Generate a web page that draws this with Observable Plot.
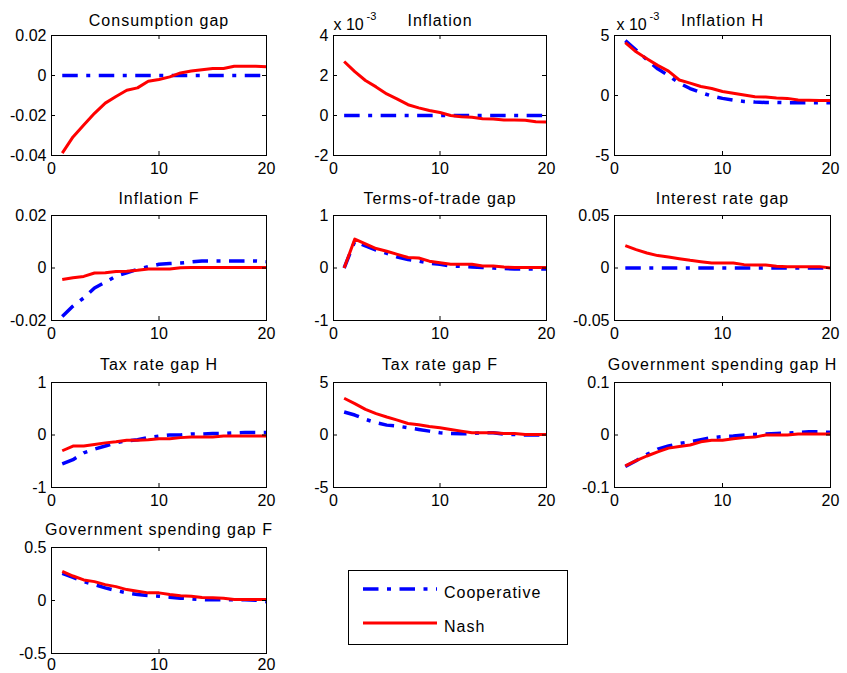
<!DOCTYPE html>
<html><head><meta charset="utf-8">
<script src="https://cdn.jsdelivr.net/npm/d3@7"></script>
<script src="https://cdn.jsdelivr.net/npm/@observablehq/plot@0.6"></script>
<style>
body{margin:0;background:#fff;}
#chart{position:relative;width:847px;height:673px;background:#fff;font-family:"Liberation Sans",Arial,sans-serif;overflow:hidden;}
#chart svg{position:absolute;}
g[aria-label="legend-text"] text{letter-spacing:1px;}
</style></head><body><div id="chart"></div>
<script>
// ---- data ----
const periods = [1,2,3,4,5,6,7,8,9,10,11,12,13,14,15,16,17,18,19,20];
const xTicks = [0,10,20];
const seriesNames = ["Cooperative","Nash"];
const expLabel = ["x 10","-3"];

const titles = ["Consumption gap","Inflation","Inflation H","Inflation F","Terms-of-trade gap",
  "Interest rate gap","Tax rate gap H","Tax rate gap F","Government spending gap H","Government spending gap F"];

const consCoop = [0,0,0,0,0,0,0,0,0,0,0,0,0,0,0,0,0,0,0,0];
const consNash = [-0.0388,-0.0307,-0.0248,-0.0189,-0.0138,-0.0105,-0.0074,-0.0062,-0.0029,-0.0020,-0.0007,0.0013,0.0022,0.0029,0.0035,0.0035,0.0046,0.0046,0.0046,0.0044];
// Inflation and Inflation H in units of 10^-3
const inflCoop = [0,0,0,0,0,0,0,0,0,0,0,0,0,0,0,0,0,0,0,0];
const inflNash = [2.70,2.19,1.75,1.43,1.08,0.82,0.54,0.38,0.25,0.15,0.00,-0.06,-0.09,-0.16,-0.17,-0.22,-0.22,-0.24,-0.31,-0.33];
const inflHCoop = [4.57,3.78,2.99,2.22,1.66,1.03,0.58,0.24,-0.04,-0.24,-0.38,-0.50,-0.55,-0.58,-0.58,-0.61,-0.61,-0.61,-0.61,-0.61];
const inflHNash = [4.40,3.64,3.07,2.51,2.03,1.29,1.03,0.75,0.58,0.33,0.18,0.04,-0.10,-0.13,-0.21,-0.24,-0.38,-0.40,-0.42,-0.42];
const inflFCoop = [-0.0185,-0.0145,-0.0114,-0.0076,-0.0054,-0.0031,-0.0018,-0.0005,0.0005,0.0014,0.0017,0.0019,0.0023,0.0027,0.0027,0.0027,0.0027,0.0027,0.0027,0.0024];
const inflFNash = [-0.0044,-0.0037,-0.0032,-0.0019,-0.0018,-0.0013,-0.0012,-0.0009,-0.0004,-0.0004,-0.0004,0.0001,0.0002,0.0002,0.0002,0.0002,0.0002,0.0002,0.0002,0.0002];
const totCoop = [0,0.51,0.42,0.34,0.28,0.21,0.16,0.13,0.09,0.07,0.04,0.03,0.02,0.01,0,-0.01,-0.02,-0.02,-0.02,-0.02];
const totNash = [0,0.55,0.46,0.37,0.32,0.26,0.20,0.19,0.13,0.10,0.07,0.07,0.07,0.04,0.04,0.02,0.01,0.01,0.01,0.01];
const irCoop = [0,0,0,0,0,0,0,0,0,0,0,0,0,0,0,0,0,0,0,0];
const irNash = [0.0213,0.0175,0.0143,0.0118,0.0105,0.0089,0.0073,0.0060,0.0048,0.0048,0.0048,0.0032,0.0029,0.0029,0.0016,0.0013,0.0013,0.0013,0.0013,0.0000];
const taxHCoop = [-0.55,-0.47,-0.34,-0.27,-0.21,-0.15,-0.11,-0.09,-0.05,-0.02,0,0,0.02,0.02,0.03,0.03,0.04,0.05,0.05,0.05];
const taxHNash = [-0.30,-0.21,-0.21,-0.18,-0.15,-0.13,-0.10,-0.10,-0.09,-0.07,-0.07,-0.05,-0.04,-0.04,-0.04,-0.02,-0.02,-0.02,-0.02,-0.02];
const taxFCoop = [2.19,1.90,1.49,1.17,0.94,0.85,0.69,0.53,0.37,0.21,0.14,0.11,0.14,0.21,0.21,0.08,0.05,0,0,0.02];
const taxFNash = [3.50,2.99,2.44,2.03,1.71,1.42,1.10,0.97,0.81,0.69,0.53,0.37,0.21,0.21,0.21,0.14,0.14,0.05,0.05,0.05];
const gHCoop = [-0.060,-0.049,-0.037,-0.027,-0.021,-0.016,-0.013,-0.009,-0.005,-0.003,-0.002,0,0.001,0.002,0.003,0.0035,0.005,0.006,0.006,0.005];
const gHNash = [-0.0587,-0.049,-0.040,-0.032,-0.025,-0.022,-0.019,-0.013,-0.010,-0.010,-0.007,-0.005,-0.004,0,0,0,0.002,0.002,0.002,0.002];
const gFCoop = [0.256,0.219,0.178,0.150,0.119,0.094,0.072,0.056,0.047,0.041,0.031,0.022,0.016,0.009,0.006,0.006,0.006,0.006,0.003,-0.012];
const gFNash = [0.275,0.231,0.194,0.178,0.150,0.131,0.103,0.088,0.072,0.072,0.056,0.044,0.041,0.028,0.025,0.022,0.009,0.009,0.009,0.009];

const yTicksList = [
  [-0.04,-0.02,0,0.02],[-2,0,2,4],[-5,0,5],
  [-0.02,0,0.02],[-1,0,1],[-0.05,0,0.05],
  [-1,0,1],[-5,0,5],[-0.1,0,0.1],
  [-0.5,0,0.5]
];
const coopList = [consCoop,inflCoop,inflHCoop,inflFCoop,totCoop,irCoop,taxHCoop,taxFCoop,gHCoop,gFCoop];
const nashList = [consNash,inflNash,inflHNash,inflFNash,totNash,irNash,taxHNash,taxFNash,gHNash,gFNash];
const withExponent = [false,true,true,false,false,false,false,false,false,false];

// ---- layout / style ----
const cols = [{left:51,w:215},{left:333,w:213},{left:614,w:216}];
const rowsL = [{top:35,h:120,gap:10,xpad:7},{top:215,h:105,gap:12,xpad:7},{top:381.5,h:105,gap:12.5,xpad:7},{top:547,h:106,gap:13,xpad:5}];
const COOP = "#0000ff", NASH = "#ff0000";
const DASH = "15.5,8.5,4,8.5";
const FONT = '"Liberation Sans", Arial, sans-serif';
const fmt = d => String(d);
const chart = document.getElementById("chart");

function panel(i) {
  const c = cols[i % 3], r = rowsL[Math.floor(i / 3)];
  const w = c.w, h = r.h;
  const ml = 60, mr = 20, mt = 40, mb = 30;
  const yT = yTicksList[i];
  const data = periods.map((t, k) => ({t, coop: coopList[i][k], nash: nashList[i][k]}));
  const marks = [
    Plot.line(data, {x: "t", y: "coop", stroke: COOP, strokeWidth: 3.5, strokeDasharray: DASH, strokeLinecap: "butt", strokeLinejoin: "miter"}),
    Plot.line(data, {x: "t", y: "nash", stroke: NASH, strokeWidth: 3, strokeLinecap: "butt"}),
    Plot.tickX(xTicks, {x: d => d, stroke: "black", strokeWidth: 1, insetBottom: h - 4}),
    Plot.tickX(xTicks, {x: d => d, stroke: "black", strokeWidth: 1, insetTop: h - 4}),
    Plot.tickY(yT, {y: d => d, stroke: "black", strokeWidth: 1, insetRight: w - 4}),
    Plot.tickY(yT, {y: d => d, stroke: "black", strokeWidth: 1, insetLeft: w - 4}),
    Plot.frame({stroke: "black", strokeWidth: 1}),
    Plot.axisX(xTicks, {tickSize: 0, tickPadding: r.xpad, tickFormat: fmt, fontSize: 16, label: null}),
    Plot.axisY(yT, {tickSize: 0, tickPadding: 5, tickFormat: fmt, fontSize: 16, label: null}),
    Plot.text([titles[i]], {frameAnchor: "top", dy: -r.gap, lineAnchor: "bottom", fontSize: 16, fill: "black"})
  ];
  if (withExponent[i]) {
    const dx = (i === 2) ? 2 : 0;
    marks.push(Plot.text([expLabel[0]], {frameAnchor: "top-left", dx: dx, dy: -6, textAnchor: "start", lineAnchor: "bottom", fontSize: 16, fill: "black"}));
    marks.push(Plot.text([expLabel[1]], {frameAnchor: "top-left", dx: dx + 33, dy: -16, textAnchor: "start", lineAnchor: "bottom", fontSize: 11, fill: "black"}));
  }
  const svg = Plot.plot({
    width: w + ml + mr, height: h + mt + mb,
    marginLeft: ml, marginRight: mr, marginTop: mt, marginBottom: mb,
    x: {domain: [0, 20], axis: null, label: null},
    y: {domain: [yT[0], yT[yT.length - 1]], axis: null, label: null},
    marks
  });
  svg.style.position = "absolute";
  svg.style.left = (c.left - ml) + "px";
  svg.style.top = (r.top - mt) + "px";
  svg.style.background = "transparent";
  svg.style.overflow = "visible";
  svg.style.fontFamily = FONT;
  svg.style.fontSize = "16px";
  svg.style.color = "black";
  svg.style.maxWidth = "none";
  d3.select(svg).selectAll("text")
    .filter(function () { return this.textContent === titles[i]; })
    .style("letter-spacing", "1px");
  chart.appendChild(svg);
}
for (let i = 0; i < titles.length; i++) panel(i);

// ---- legend ----
const lg = d3.select(chart).append("svg")
  .attr("width", 222).attr("height", 78)
  .style("left", "347px").style("top", "569px").style("overflow", "visible")
  .style("font-family", FONT);
lg.append("rect").attr("x", 1.5).attr("y", 1.5).attr("width", 219).attr("height", 74)
  .attr("fill", "white").attr("stroke", "black").attr("stroke-width", 1);
const lgRows = [{y: 20, color: COOP, dash: DASH, sw: 3.5, ty: 29}, {y: 54, color: NASH, dash: null, sw: 3, ty: 63}];
const lgText = lg.append("g").attr("aria-label", "legend-text");
seriesNames.forEach((name, k) => {
  const rr = lgRows[k];
  lg.append("line").attr("x1", 16).attr("x2", 90).attr("y1", rr.y).attr("y2", rr.y)
    .attr("stroke", rr.color).attr("stroke-width", rr.sw)
    .attr("stroke-dasharray", rr.dash);
  lgText.append("text").attr("x", 97).attr("y", rr.ty).attr("font-size", 16).attr("fill", "black").text(name);
});
</script></body></html>
